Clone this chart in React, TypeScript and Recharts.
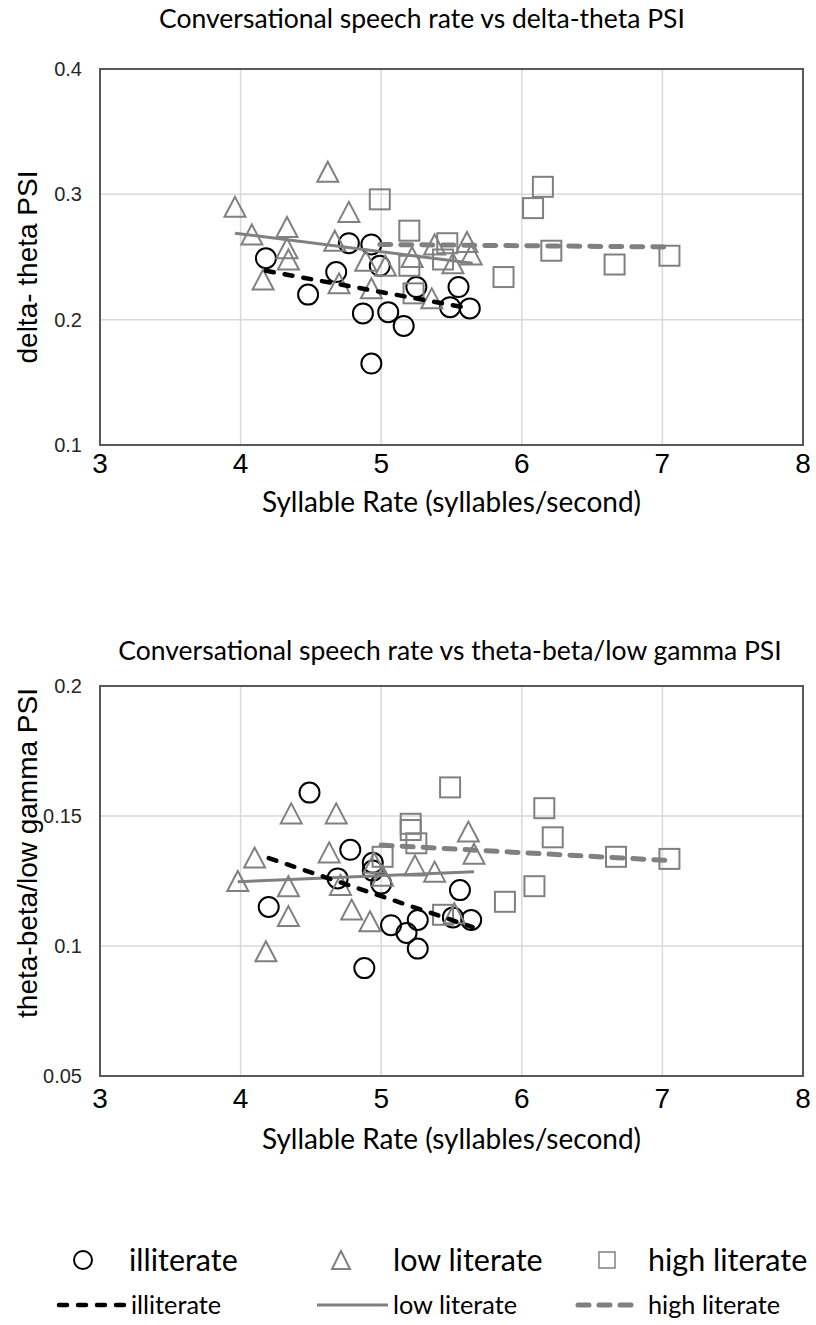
import React from 'react'
import { ScatterChart, Scatter, XAxis, YAxis, CartesianGrid, ReferenceArea } from 'recharts'

type Pt = { x: number; y: number }
const pts = (rows: number[][]): Pt[] => rows.map(([x, y]) => ({ x, y }))

const xTicks = [3, 4, 5, 6, 7, 8]
const dtTicks = [0.1, 0.2, 0.3, 0.4]
const tbTicks = [0.05, 0.1, 0.15, 0.2]

// delta-theta PSI
const dtIlliterate = pts([
  [4.18, 0.249], [4.48, 0.22], [4.68, 0.238], [4.77, 0.261], [4.93, 0.26], [4.99, 0.243],
  [4.87, 0.205], [5.05, 0.206], [5.16, 0.195], [4.93, 0.165], [5.25, 0.226], [5.49, 0.21],
  [5.55, 0.226], [5.63, 0.209],
])
const dtLow = pts([
  [3.96, 0.29], [4.08, 0.268], [4.16, 0.232], [4.33, 0.274], [4.33, 0.257], [4.34, 0.248],
  [4.62, 0.318], [4.77, 0.286], [4.67, 0.263], [4.7, 0.229], [4.89, 0.247], [4.93, 0.225],
  [5.03, 0.243], [5.22, 0.25], [5.36, 0.217], [5.38, 0.26], [5.51, 0.245], [5.61, 0.262],
  [5.64, 0.252],
])
const dtHigh = pts([
  [4.99, 0.296], [5.2, 0.271], [5.47, 0.261], [5.44, 0.248], [5.2, 0.243], [5.23, 0.221],
  [5.87, 0.234], [6.15, 0.306], [6.08, 0.289], [6.21, 0.255], [6.66, 0.244], [7.05, 0.251],
])
const dtIlliterateTrend = pts([[4.18, 0.239], [5.63, 0.209]])
const dtLowTrend = pts([[3.96, 0.269], [5.65, 0.245]])
const dtHighTrend = pts([[4.99, 0.26], [7.05, 0.258]])

// theta-beta/low gamma PSI
const tbIlliterate = pts([
  [4.49, 0.159], [4.78, 0.137], [4.2, 0.115], [4.69, 0.126], [4.94, 0.132], [4.94, 0.129],
  [5.0, 0.124], [5.07, 0.108], [5.18, 0.105], [5.26, 0.11], [5.26, 0.099], [4.88, 0.0915],
  [5.51, 0.111], [5.56, 0.1215], [5.64, 0.11],
])
const tbLow = pts([
  [3.98, 0.125], [4.1, 0.134], [4.18, 0.098], [4.34, 0.123], [4.34, 0.1115], [4.36, 0.151],
  [4.68, 0.151], [4.63, 0.136], [4.71, 0.1235], [4.79, 0.114], [4.92, 0.1095], [4.95, 0.132],
  [5.01, 0.127], [5.24, 0.131], [5.38, 0.1286], [5.52, 0.1126], [5.62, 0.144], [5.66, 0.1355],
])
const tbHigh = pts([
  [5.49, 0.161], [5.21, 0.147], [5.21, 0.1446], [5.25, 0.1395], [5.01, 0.1343], [5.88, 0.117],
  [6.09, 0.123], [5.44, 0.112], [6.16, 0.153], [6.22, 0.1418], [6.67, 0.1343], [7.05, 0.1335],
])
const tbIlliterateTrend = pts([[4.2, 0.1338], [5.65, 0.1073]])
const tbLowTrend = pts([[3.98, 0.1247], [5.66, 0.1286]])
const tbHighTrend = pts([[5.0, 0.1388], [7.07, 0.1328]])

const GRAY = '#808080'
const TITLE_FONT = 'Lato, sans-serif'
const AXIS_FONT = '"Liberation Sans", Arial, sans-serif'

const CircleMark = (p: any) => (
  <circle cx={p.cx} cy={p.cy} r={10} fill="none" stroke="#000" strokeWidth={2} />
)
const TriangleMark = (p: any) => (
  <polygon
    points={`${p.cx},${p.cy - 10} ${p.cx + 10.5},${p.cy + 10} ${p.cx - 10.5},${p.cy + 10}`}
    fill="none"
    stroke={GRAY}
    strokeWidth={2}
  />
)
const SquareMark = (p: any) => (
  <rect x={p.cx - 10} y={p.cy - 10} width={20} height={20} fill="none" stroke={GRAY} strokeWidth={2} />
)
const NoMark = () => <g />

interface PsiChartProps {
  top: number
  title: string
  titleCenter: number
  titleTop: number
  plotHeight: number
  yLabel: string
  yLabelDy: number
  yTicks: number[]
  xAxisHeight: number
  xTickMargin: number
  xLabelOffset: number
  ill: Pt[]
  low: Pt[]
  high: Pt[]
  illTrend: Pt[]
  lowTrend: Pt[]
  highTrend: Pt[]
}

function PsiChart(props: PsiChartProps) {
  const { yTicks } = props
  const yMin = yTicks[0]
  const yMax = yTicks[yTicks.length - 1]
  return (
    <div style={{ position: 'absolute', left: 0, top: props.top, width: 816, height: 540 }}>
      <div
        style={{
          position: 'absolute',
          left: props.titleCenter - 400,
          width: 800,
          top: props.titleTop,
          textAlign: 'center',
          fontFamily: TITLE_FONT,
          fontSize: 26.5,
          lineHeight: '32px',
          color: '#000',
          whiteSpace: 'nowrap',
        }}
      >
        {props.title}
      </div>
      <ScatterChart
        width={816}
        height={540}
        margin={{ top: 69, right: 13, left: 0, bottom: 540 - 69 - props.plotHeight - props.xAxisHeight }}
      >
        <CartesianGrid stroke="#d9d9d9" strokeWidth={1.5} />
        <XAxis
          type="number"
          dataKey="x"
          domain={[3, 8]}
          ticks={xTicks}
          tickLine={false}
          axisLine={false}
          tickSize={0}
          tickMargin={props.xTickMargin}
          height={props.xAxisHeight}
          tick={{ fill: '#000', fontSize: 28, fontFamily: AXIS_FONT }}
          label={{
            value: 'Syllable Rate (syllables/second)',
            position: 'insideBottom',
            offset: props.xLabelOffset,
            style: { fontFamily: TITLE_FONT, fontSize: 28, fill: '#000' },
          }}
        />
        <YAxis
          type="number"
          dataKey="y"
          domain={[yMin, yMax]}
          ticks={yTicks}
          width={100}
          tickLine={false}
          axisLine={false}
          tickSize={0}
          tickMargin={18}
          tick={{ fill: '#262626', fontSize: 20, fontFamily: AXIS_FONT }}
          label={{
            value: props.yLabel,
            angle: -90,
            position: 'insideLeft',
            offset: 27,
            dy: props.yLabelDy,
            style: { textAnchor: 'middle', fontFamily: AXIS_FONT, fontSize: 28, fill: '#000' },
          }}
        />
        <ReferenceArea x1={3} x2={8} y1={yMin} y2={yMax} fill="none" stroke="#595959" strokeWidth={2} />
        <Scatter data={props.ill} shape={CircleMark} isAnimationActive={false} />
        <Scatter data={props.low} shape={TriangleMark} isAnimationActive={false} />
        <Scatter data={props.high} shape={SquareMark} isAnimationActive={false} />
        <Scatter
          data={props.lowTrend}
          shape={NoMark}
          line={{ stroke: GRAY, strokeWidth: 3 }}
          isAnimationActive={false}
        />
        <Scatter
          data={props.illTrend}
          shape={NoMark}
          line={{ stroke: '#000', strokeWidth: 4.5, strokeDasharray: '8 11', strokeLinecap: 'round' }}
          isAnimationActive={false}
        />
        <Scatter
          data={props.highTrend}
          shape={NoMark}
          line={{ stroke: GRAY, strokeWidth: 5, strokeDasharray: '11 10', strokeLinecap: 'round' }}
          isAnimationActive={false}
        />
      </ScatterChart>
    </div>
  )
}

function LegendBlock() {
  const big = { fontFamily: TITLE_FONT, fontSize: 30.5, fill: '#000' }
  const small = { fontFamily: TITLE_FONT, fontSize: 25.3, fill: '#000' }
  return (
    <svg width={816} height={110} style={{ position: 'absolute', left: 0, top: 1215 }}>
      <circle cx={83} cy={45} r={9} fill="none" stroke="#000" strokeWidth={2} />
      <text x={129} y={56} style={big}>illiterate</text>
      <polygon points="341,36 350,54 332,54" fill="none" stroke={GRAY} strokeWidth={2} />
      <text x={393} y={56} style={big}>low literate</text>
      <rect x={599} y={37} width={16} height={16} fill="none" stroke={GRAY} strokeWidth={1.5} />
      <text x={648} y={56} style={big}>high literate</text>

      <line x1={59} y1={90} x2={126} y2={90} stroke="#000" strokeWidth={4.5} strokeDasharray="8 11" strokeLinecap="round" />
      <text x={131} y={99} style={small}>illiterate</text>
      <line x1={317} y1={90} x2={388} y2={90} stroke={GRAY} strokeWidth={3} />
      <text x={393} y={99} style={small}>low literate</text>
      <line x1={578} y1={90} x2={638} y2={90} stroke={GRAY} strokeWidth={5} strokeDasharray="11 10" strokeLinecap="round" />
      <text x={648} y={99} style={small}>high literate</text>
    </svg>
  )
}

export default function App() {
  return (
    <div style={{ position: 'relative', width: 816, height: 1325, background: '#fff', overflow: 'hidden' }}>
      <style>{'body{margin:0}'}</style>
      <PsiChart
        top={0}
        title="Conversational speech rate vs delta-theta PSI"
        titleCenter={422}
        titleTop={2}
        plotHeight={376}
        yLabel="delta- theta PSI"
        yLabelDy={10}
        yTicks={dtTicks}
        xAxisHeight={70}
        xTickMargin={8}
        xLabelOffset={3}
        ill={dtIlliterate}
        low={dtLow}
        high={dtHigh}
        illTrend={dtIlliterateTrend}
        lowTrend={dtLowTrend}
        highTrend={dtHighTrend}
      />
      <PsiChart
        top={617}
        title="Conversational speech rate vs theta-beta/low gamma PSI"
        titleCenter={450}
        titleTop={17}
        plotHeight={390}
        yLabel="theta-beta/low gamma PSI"
        yLabelDy={-28}
        yTicks={tbTicks}
        xAxisHeight={80}
        xTickMargin={12}
        xLabelOffset={7}
        ill={tbIlliterate}
        low={tbLow}
        high={tbHigh}
        illTrend={tbIlliterateTrend}
        lowTrend={tbLowTrend}
        highTrend={tbHighTrend}
      />
      <LegendBlock />
    </div>
  )
}
